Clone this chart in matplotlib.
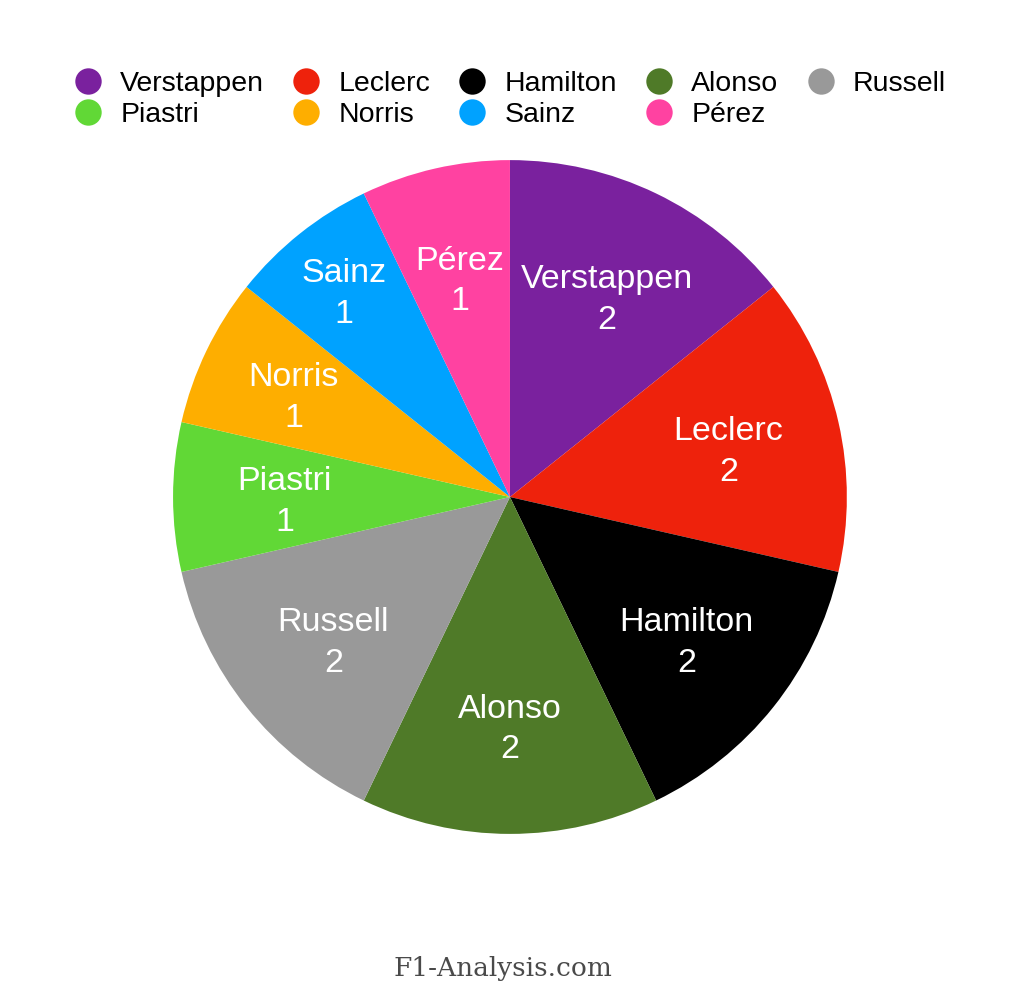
import matplotlib
matplotlib.use("Agg")
import matplotlib.pyplot as plt
from matplotlib.lines import Line2D
import numpy as np

plt.rcParams['font.family'] = ['Liberation Sans', 'DejaVu Sans']

drivers = ['Verstappen', 'Leclerc', 'Hamilton', 'Alonso', 'Russell',
           'Piastri', 'Norris', 'Sainz', 'Pérez']
counts = [2, 2, 2, 2, 2, 1, 1, 1, 1]
colors = ['#7A219E', '#EE220C', '#000000', '#4F7A28', '#999999',
          '#61D836', '#FEAE00', '#00A2FF', '#FF42A1']

# legend reads row by row, matplotlib fills column by column
legend_order = ['Verstappen', 'Piastri', 'Leclerc', 'Norris', 'Hamilton',
                'Sainz', 'Alonso', 'Pérez', 'Russell']

# radial position of the in-slice labels (fraction of radius)
label_r = [0.665, 0.665, 0.67, 0.675, 0.67, 0.668, 0.712, 0.789, 0.671]

fig = plt.figure(figsize=(10.24, 9.94), dpi=100)
ax = fig.add_axes([0.169, 0.161, 0.658, 0.678])

labels = [f"{d}\n{c}" for d, c in zip(drivers, counts)]
wedges, texts = ax.pie(counts, labels=labels, colors=colors, startangle=90,
                       counterclock=False, labeldistance=0.665, radius=1.0,
                       textprops=dict(color='white', fontsize=24.5, ha='center',
                                      va='center', multialignment='center',
                                      linespacing=1.4))
for w, t, r in zip(wedges, texts, label_r):
    ang = np.deg2rad((w.theta1 + w.theta2) / 2)
    t.set_position((r * np.cos(ang), r * np.sin(ang) - 0.015))

ax.set_xlim(-1, 1)
ax.set_ylim(-1, 1)
ax.set_aspect('equal')
ax.axis('off')

col = dict(zip(drivers, colors))
handles = [Line2D([], [], marker='o', linestyle='none', markersize=19,
                  markerfacecolor=col[d], markeredgecolor='none')
           for d in legend_order]
fig.legend(handles, legend_order, loc='upper left', bbox_to_anchor=(0.072, 0.929),
           ncol=5, frameon=False, fontsize=20.5, handlelength=1.0,
           handletextpad=0.63, columnspacing=0.98, labelspacing=0.2,
           borderpad=0, borderaxespad=0)

fig.text(0.491, 0.026, 'F1-Analysis.com', ha='center', va='center',
         fontsize=19, family='DejaVu Serif', color='#4a4a4a')

fig.savefig('out.png', dpi=100, facecolor='white')
